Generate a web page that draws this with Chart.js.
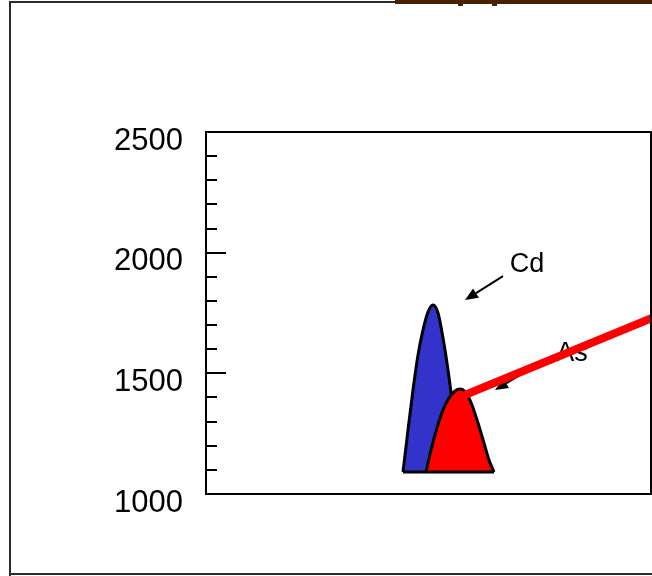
<!DOCTYPE html>
<html>
<head>
<meta charset="utf-8">
<script src="https://cdn.jsdelivr.net/npm/chart.js@4/dist/chart.umd.min.js"></script>
<style>
  html, body { margin: 0; padding: 0; background: #fff; }
  #wrap { position: relative; width: 652px; height: 576px; overflow: hidden; }
  #wrap canvas { position: absolute; left: 0; top: 0; }
  .frame { position: absolute; background: #2a2a2a; }
</style>
</head>
<body>
<div id="wrap">
  <canvas id="c" width="652" height="576"></canvas>
  <div class="frame" style="left:9px;top:1px;width:2px;height:575px;"></div>
  <div class="frame" style="left:9px;top:1px;width:386px;height:2px;"></div>
  <div class="frame" style="left:9px;top:573px;width:643px;height:2px;"></div>
  <div style="position:absolute;left:395px;top:0;width:257px;height:4px;background:#4a2100;"></div>
  <div style="position:absolute;left:458px;top:3px;width:5px;height:3px;background:#4a2100;"></div>
  <div style="position:absolute;left:492px;top:3px;width:5px;height:3px;background:#4a2100;"></div>
</div>
<script>
// ---- data (x in horizontal position units, y in axis units) ----
const yTickValues = [1000, 1500, 2000, 2500];

const cdX = [197, 202, 207, 212, 217, 222, 227, 232, 237, 242, 246, 250, 254, 258];
const cdY = [1091, 1265, 1431, 1576, 1680, 1754, 1783, 1750, 1646, 1514, 1390, 1265, 1162, 1091];

const asX = [220, 225, 231, 237, 243, 249, 254, 260, 266, 272, 278, 283, 288];
const asY = [1091, 1182, 1274, 1348, 1398, 1427, 1435, 1419, 1369, 1294, 1211, 1141, 1091];

const baseX = [197, 288];
const baseY = [1091, 1091];

const rayX = [254, 446];
const rayY = [1402, 1729];

const labelNames = ['Cd', 'As'];
const labelX = [321, 366];
const labelY = [1949, 1580];
const arrowFromX = [297, 319];
const arrowFromY = [1903, 1506];
const arrowToX = [259, 289];
const arrowToY = [1804, 1431];

const pts = (xs, ys) => xs.map((x, i) => ({ x: x, y: ys[i] }));

const annotPlugin = {
  id: 'annot',
  beforeDatasetsDraw(chart) {
    const ctx = chart.ctx, xs = chart.scales.x, ys = chart.scales.y;
    ctx.save();
    ctx.fillStyle = '#000';
    ctx.strokeStyle = '#000';
    ctx.font = '27px "Liberation Sans", Arial, sans-serif';
    ctx.textAlign = 'center';
    ctx.textBaseline = 'middle';
    labelNames.forEach((t, i) => {
      ctx.fillText(t, xs.getPixelForValue(labelX[i]), ys.getPixelForValue(labelY[i]));
    });
    for (let i = 0; i < arrowFromX.length; i++) {
      const x1 = xs.getPixelForValue(arrowFromX[i]), y1 = ys.getPixelForValue(arrowFromY[i]);
      const x2 = xs.getPixelForValue(arrowToX[i]), y2 = ys.getPixelForValue(arrowToY[i]);
      const a = Math.atan2(y2 - y1, x2 - x1);
      const L = 13, W = 5.5;
      const bx = x2 - L * Math.cos(a), by = y2 - L * Math.sin(a);
      ctx.lineWidth = 2;
      ctx.beginPath(); ctx.moveTo(x1, y1); ctx.lineTo(bx, by); ctx.stroke();
      ctx.beginPath();
      ctx.moveTo(x2, y2);
      ctx.lineTo(bx + W * Math.sin(a), by - W * Math.cos(a));
      ctx.lineTo(bx - W * Math.sin(a), by + W * Math.cos(a));
      ctx.closePath(); ctx.fill();
    }
    ctx.restore();
  },
  afterDraw(chart) {
    const ctx = chart.ctx, ys = chart.scales.y, ca = chart.chartArea;
    ctx.save();
    ctx.strokeStyle = '#000';
    ctx.lineWidth = 2;
    ys.ticks.forEach(t => {
      const py = Math.round(ys.getPixelForValue(t.value));
      const len = (t.value % 500 === 0) ? 20 : 11;
      ctx.beginPath(); ctx.moveTo(ca.left, py); ctx.lineTo(ca.left + len, py); ctx.stroke();
    });
    ctx.strokeRect(ca.left, ca.top, ca.right - ca.left, ca.bottom - ca.top);
    ctx.restore();
  }
};

new Chart(document.getElementById('c'), {
  type: 'line',
  data: {
    datasets: [
      { data: pts(rayX, rayY), borderColor: '#ff0000', borderWidth: 8, pointRadius: 0, fill: false, order: 0, borderCapStyle: 'butt' },
      { data: pts(baseX, baseY), borderColor: '#000', borderWidth: 3, pointRadius: 0, fill: false, order: 1 },
      { data: pts(asX, asY), borderColor: '#000', borderWidth: 3, backgroundColor: '#ff0000', pointRadius: 0,
        fill: { value: 1091 }, cubicInterpolationMode: 'monotone', order: 2 },
      { data: pts(cdX, cdY), borderColor: '#000', borderWidth: 3, backgroundColor: '#3333cc', pointRadius: 0,
        fill: { value: 1091 }, cubicInterpolationMode: 'monotone', order: 3 }
    ]
  },
  options: {
    responsive: false,
    animation: false,
    events: [],
    layout: { padding: { left: 0, top: 132, right: 1, bottom: 82 } },
    plugins: { legend: { display: false }, tooltip: { enabled: false }, title: { display: false } },
    scales: {
      x: { type: 'linear', min: 0, max: 445, display: false },
      y: {
        type: 'linear', min: 1000, max: 2500,
        grid: { display: false, drawTicks: false },
        border: { display: false },
        afterFit(s) { s.width = 206; },
        ticks: {
          stepSize: 100, autoSkip: false, padding: 23, labelOffset: 9, color: '#000',
          font: { family: '"Liberation Sans", Arial, sans-serif', size: 31 },
          callback: v => yTickValues.includes(v) ? String(v) : ''
        }
      }
    }
  },
  plugins: [annotPlugin]
});
</script>
</body>
</html>
